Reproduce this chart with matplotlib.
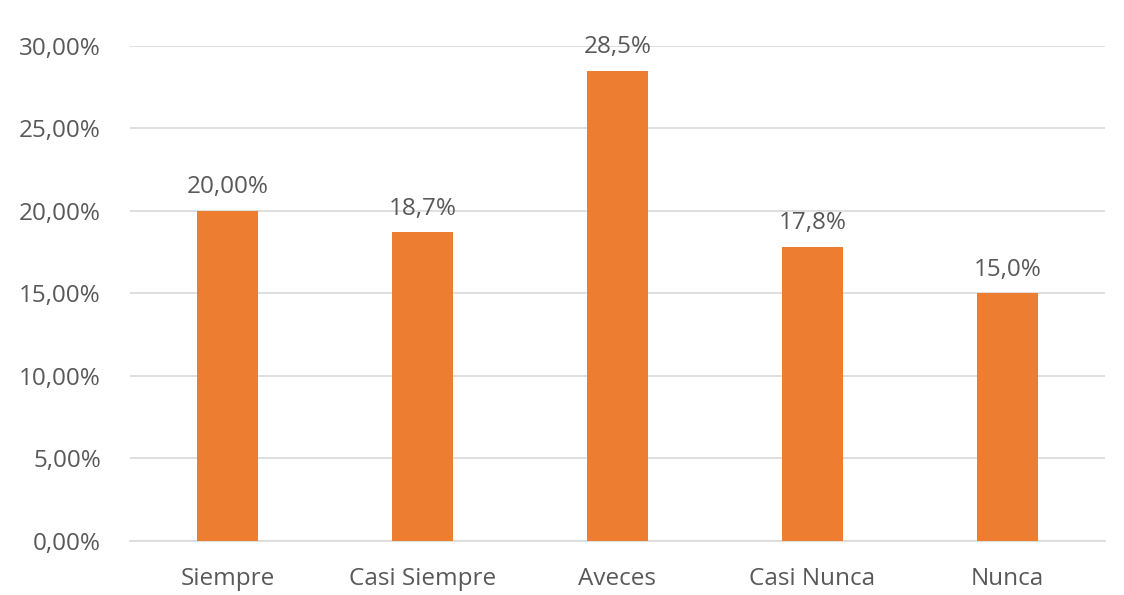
import numpy as np
import matplotlib.pyplot as plt
from matplotlib.ticker import FuncFormatter

categories = ["Siempre", "Casi Siempre", "Aveces", "Casi Nunca", "Nunca"]
values = [20.0, 18.7, 28.5, 17.8, 15.0]
labels = ["20,00%", "18,7%", "28,5%", "17,8%", "15,0%"]
yticks = [0, 5, 10, 15, 20, 25, 30]

plt.rcParams['font.family'] = ['Open Sans', 'DejaVu Sans']
text_color = '#595959'
fs = 17.5

fig = plt.figure(figsize=(11.24, 5.95), dpi=100)
ax = fig.add_axes([0.1157, 0.0908, 0.8673, 0.8319])

x = np.arange(len(categories))
bars = ax.bar(x, values, width=0.31, color='#ED7D31', zorder=3)

for b, lab in zip(bars, labels):
    ax.annotate(lab, (b.get_x() + b.get_width() / 2, b.get_height()),
                xytext=(0, 8.5), textcoords='offset points',
                ha='center', va='bottom', fontsize=fs, color=text_color)

ax.set_xlim(-0.5, len(categories) - 0.5)
ax.set_ylim(0, 30)
ax.set_yticks(yticks)
ax.yaxis.set_major_formatter(FuncFormatter(lambda v, p: f"{v:.2f}%".replace('.', ',')))
ax.set_xticks(x)
ax.set_xticklabels(categories)

ax.grid(axis='y', color='#D9D9D9', linewidth=1.2, zorder=0)
for s in ['top', 'right', 'left']:
    ax.spines[s].set_visible(False)
ax.spines['bottom'].set_color('#D9D9D9')
ax.spines['bottom'].set_linewidth(1.2)

ax.tick_params(axis='y', length=0, pad=21, labelsize=fs, labelcolor=text_color)
ax.tick_params(axis='x', length=0, pad=19, labelsize=fs, labelcolor=text_color)

fig.savefig('out.png', dpi=100)
